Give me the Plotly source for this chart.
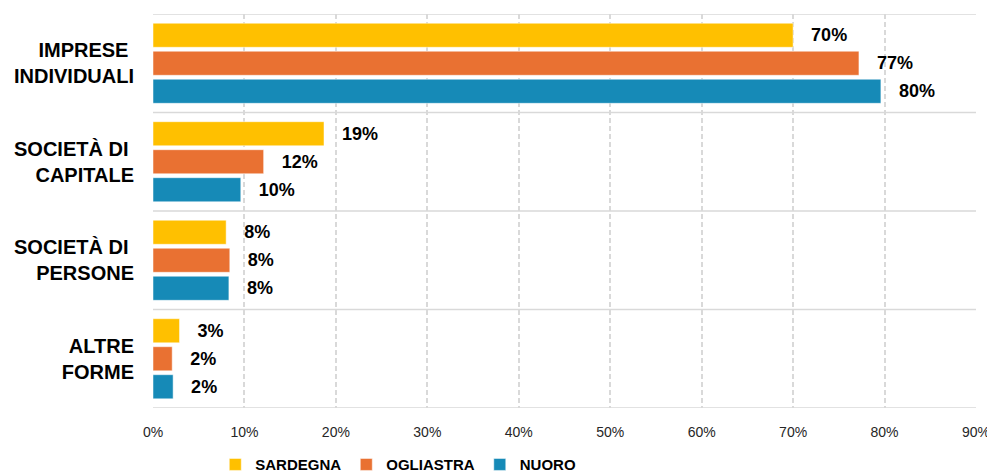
import plotly.graph_objects as go

categories = ["IMPRESE <br>INDIVIDUALI", "SOCIETÀ DI <br>CAPITALE", "SOCIETÀ DI <br>PERSONE", "ALTRE<br>FORME"]
series_names = ["SARDEGNA", "OGLIASTRA", "NUORO"]
sardegna = [70.0, 18.7, 8.0, 2.9]
ogliastra = [77.2, 12.1, 8.4, 2.1]
nuoro = [79.6, 9.6, 8.3, 2.2]
x_ticks = [0, 10, 20, 30, 40, 50, 60, 70, 80, 90]
x_tick_labels = ["0%", "10%", "20%", "30%", "40%", "50%", "60%", "70%", "80%", "90%"]

colors = ["#FFC000", "#E97132", "#168AB7"]
grid = "#D9D9D9"
bold = "Liberation Sans, Arial"

fig = go.Figure()
for name, vals, col in zip(series_names, [sardegna, ogliastra, nuoro], colors):
    fig.add_trace(go.Bar(
        y=categories, x=vals, name=name, orientation="h",
        marker=dict(color=col, line=dict(color="white", width=0.5)),
        texttemplate="   %{x:.0f}%", textposition="outside",
        textfont=dict(family=bold, size=18, color="#000000", weight="bold"),
        cliponaxis=False, constraintext="none",
    ))

shapes = []
for i in range(len(categories) + 1):
    shapes.append(dict(type="line", xref="paper", yref="y", x0=0, x1=1,
                       y0=i - 0.5, y1=i - 0.5, line=dict(color=grid, width=1.5),
                       layer="below"))

# the page body adds an 8px margin, so the figure is sized to fit the window
fig.update_layout(
    width=987, height=466,
    margin=dict(l=145, r=19, t=6, b=66, autoexpand=False),
    paper_bgcolor="white", plot_bgcolor="white",
    barmode="group", bargap=0.147, bargroupgap=0.14,
    shapes=shapes,
    showlegend=True,
    legend=dict(orientation="h", xref="container", yref="container",
                x=0.21, xanchor="left", y=0.02, yanchor="middle",
                font=dict(family=bold, size=15, color="#000000", weight="bold"),
                traceorder="normal", itemclick=False, tracegroupgap=0),
    xaxis=dict(range=[0, 90], tickvals=x_ticks, ticktext=x_tick_labels,
               showgrid=True, gridcolor=grid, gridwidth=1.5, griddash="5px,3px",
               zeroline=False, showline=False, ticks="",
               ticklabelstandoff=14,
               tickfont=dict(family=bold, size=14, color="#262626")),
    yaxis=dict(type="category", range=[3.5, -0.5], showgrid=False, zeroline=False,
               showline=False, ticks="", ticklabelstandoff=18,
               tickfont=dict(family=bold, size=20, color="#000000", weight="bold")),
)

fig.write_html("out.html")
